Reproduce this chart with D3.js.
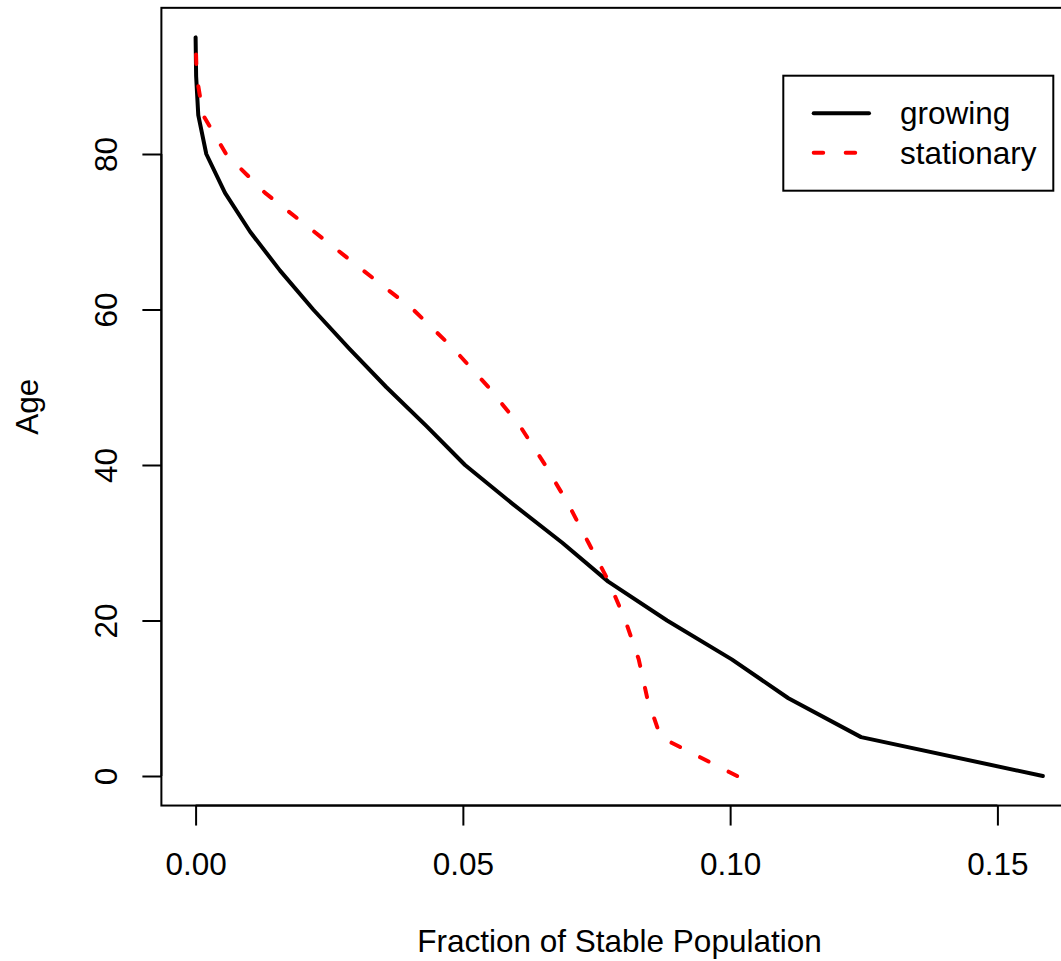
<!DOCTYPE html>
<html>
<head>
<meta charset="utf-8">
<script src="https://cdn.jsdelivr.net/npm/d3@7"></script>
<style>
  html, body { margin: 0; padding: 0; background: #fff; }
  svg { display: block; }
  text { font-family: "Liberation Sans", Arial, Helvetica, sans-serif; fill: #000; }
</style>
</head>
<body>
<svg id="chart" width="1061" height="961"></svg>
<script>
// Age groups (lower bound of each 5-year class)
const ages = [0, 5, 10, 15, 20, 25, 30, 35, 40, 45, 50, 55, 60, 65, 70, 75, 80, 85, 90, 95];

// Fraction of the stable population in each age class
const growing = [0.1585, 0.1245, 0.1109, 0.1003, 0.0882, 0.0772, 0.0686, 0.0593, 0.0504, 0.0432,
                 0.0357, 0.0287, 0.0220, 0.0158, 0.0102, 0.0055, 0.0020, 0.0005, 0.0001, 0.0000];
const stationary = [0.1013, 0.0870, 0.0845, 0.0829, 0.0804, 0.0773, 0.0735, 0.0697, 0.0654, 0.0607,
                    0.0548, 0.0482, 0.0407, 0.0314, 0.0222, 0.0130, 0.0057, 0.0014, 0.0002, 0.0000];

const xTicks = [0, 0.05, 0.10, 0.15];
const xTickLabels = ["0.00", "0.05", "0.10", "0.15"];
const yTicks = [0, 20, 40, 60, 80];

const seriesNames = ["growing", "stationary"];
const seriesColors = ["#000000", "#ff0000"];
const seriesDash = [null, "9.5 22.5"];

const svg = d3.select("#chart");
svg.append("rect").attr("width", 1061).attr("height", 961).attr("fill", "#fff");

const FS = 31.5;

// Scales: tick positions fixed by the axis frame
const x = d3.scaleLinear().domain([0, 0.15]).range([195.6, 997.4]);
const y = d3.scaleLinear().domain([0, 80]).range([776, 154]);

const xMin = -0.0064, xMax = 0.1655;
const yMin = -3.8, yMax = 98.8;

// Plot frame
svg.append("rect")
  .attr("x", x(xMin)).attr("y", y(yMax))
  .attr("width", x(xMax) - x(xMin)).attr("height", y(yMin) - y(yMax))
  .attr("fill", "none").attr("stroke", "#000").attr("stroke-width", 2);

// X axis
const xAxis = svg.append("g").attr("transform", `translate(0,${y(yMin)})`)
  .call(d3.axisBottom(x).tickValues(xTicks).tickFormat((d, i) => xTickLabels[i]).tickSize(20).tickSizeOuter(0));
xAxis.select(".domain")
  .attr("d", `M${x(xTicks[0])},0H${x(xTicks[xTicks.length - 1])}`)
  .attr("stroke", "#000").attr("stroke-width", 2);
xAxis.selectAll(".tick line").attr("stroke", "#000").attr("stroke-width", 2);
xAxis.selectAll(".tick text")
  .attr("y", 875 - y(yMin)).attr("dy", null)
  .style("font-size", FS + "px").style("font-family", '"Liberation Sans", Arial, sans-serif');

// Y axis
const yAxis = svg.append("g").attr("transform", `translate(${x(xMin)},0)`)
  .call(d3.axisLeft(y).tickValues(yTicks).tickFormat(d3.format("d")).tickSize(19).tickSizeOuter(0));
yAxis.select(".domain")
  .attr("d", `M0,${y(yTicks[0])}V${y(yTicks[yTicks.length - 1])}`)
  .attr("stroke", "#000").attr("stroke-width", 2);
yAxis.selectAll(".tick line").attr("stroke", "#000").attr("stroke-width", 2);
yAxis.selectAll(".tick text")
  .attr("x", null).attr("dy", null)
  .attr("transform", `translate(${117 - x(xMin)},0) rotate(-90)`)
  .attr("text-anchor", "middle")
  .style("font-size", FS + "px").style("font-family", '"Liberation Sans", Arial, sans-serif');
yAxis.attr("font-family", null).attr("font-size", null);
xAxis.attr("font-family", null).attr("font-size", null);

// Axis titles
svg.append("text")
  .attr("x", 619.5).attr("y", 952)
  .attr("text-anchor", "middle").style("font-size", FS + "px")
  .text("Fraction of Stable Population");
svg.append("text")
  .attr("transform", `translate(37.6,${(y(yMin) + y(yMax)) / 2}) rotate(-90)`)
  .attr("text-anchor", "middle").style("font-size", FS + "px")
  .text("Age");

// Curves
const line = d3.line()
  .x(d => x(d[1]))
  .y(d => y(d[0]));

[growing, stationary].forEach((vals, i) => {
  const pts = ages.map((a, j) => [a, vals[j]]);
  svg.append("path")
    .datum(pts)
    .attr("d", line)
    .attr("fill", "none")
    .attr("stroke", seriesColors[i])
    .attr("stroke-width", 4)
    .attr("stroke-linecap", "round")
    .attr("stroke-linejoin", "round")
    .attr("stroke-dasharray", seriesDash[i]);
});

// Legend
const lg = svg.append("g");
lg.append("rect")
  .attr("x", 783.3).attr("y", 75.7).attr("width", 270).attr("height", 115)
  .attr("fill", "#fff").attr("stroke", "#000").attr("stroke-width", 2);
seriesNames.forEach((name, i) => {
  const ly = 113.3 + i * 39.4;
  lg.append("line")
    .attr("x1", 813.7).attr("x2", 869)
    .attr("y1", ly).attr("y2", ly)
    .attr("stroke", seriesColors[i]).attr("stroke-width", 4)
    .attr("stroke-linecap", "round")
    .attr("stroke-dasharray", seriesDash[i]);
  lg.append("text")
    .attr("x", 900).attr("y", ly).attr("dy", "0.35em")
    .style("font-size", FS + "px")
    .text(name);
});
</script>
</body>
</html>
